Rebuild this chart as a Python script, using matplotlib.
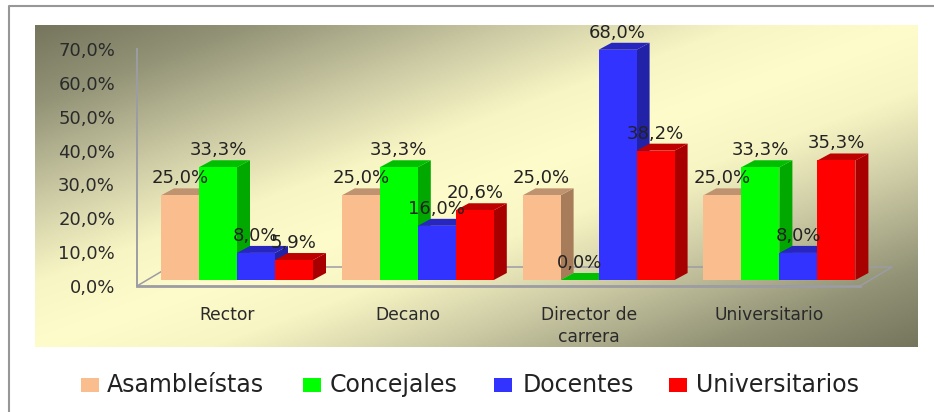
import numpy as np
import matplotlib
matplotlib.use("Agg")
import matplotlib.pyplot as plt
from matplotlib.colors import LinearSegmentedColormap
from matplotlib.lines import Line2D
from matplotlib.patches import Polygon, Rectangle

categories = ["Rector", "Decano", "Director de\ncarrera", "Universitario"]
asambleistas = [25.0, 25.0, 25.0, 25.0]
concejales = [33.3, 33.3, 0.0, 33.3]
docentes = [8.0, 16.0, 68.0, 8.0]
universitarios = [5.9, 20.6, 38.2, 35.3]
series_names = ["Asambleístas", "Concejales", "Docentes", "Universitarios"]
y_ticks = [0, 10, 20, 30, 40, 50, 60, 70]

W, H = 934, 412
PT = 72 / 100
fig = plt.figure(figsize=(W / 100, H / 100), dpi=100, facecolor="white")
plt.rcParams["font.family"] = "DejaVu Sans"


def fx(p):
    return p / W


def fy(p):
    return 1 - p / H


# outer frame
fig.add_artist(Line2D([fx(9), fx(9), fx(934)], [fy(412), fy(6), fy(6)], color="#979797", lw=1.5))

# gradient panel
bg = fig.add_axes([fx(35), fy(347), fx(918 - 35), (347 - 25) / H], zorder=0)
u, v = np.meshgrid(np.linspace(0, 1, 440), np.linspace(0, 1, 160))
cmap = LinearSegmentedColormap.from_list(
    "panel",
    [(0, "#76765E"), (0.12, "#939377"), (0.27, "#CCCAA4"), (0.40, "#F8F5C4"), (0.5, "#FFFCCC"),
     (0.60, "#F8F5C4"), (0.73, "#CCCAA4"), (0.88, "#939377"), (1, "#76765E")],
)
bg.imshow((u + v) / 2, cmap=cmap, vmin=0, vmax=1, aspect="auto", interpolation="bilinear")
bg.axis("off")

# main axes: x px = 237 + 180.8 * category, y px = 286 - 3.386 * value
ax = fig.add_axes([fx(137), fy(286), fx(860 - 137), (286 - 49) / H], zorder=1)
ax.patch.set_visible(False)
ax.set_xlim((137 - 237) / 180.8, (860 - 237) / 180.8)
ax.set_ylim(0, 70)

PXX, PXY = 1 / 180.8, 1 / 3.386
bar_w = 38 * PXX
dep_x, dep_y = 13 * PXX, 7 * PXY
base = 6 * PXY
x_idx = np.arange(len(categories))

for s in ("top", "right"):
    ax.spines[s].set_visible(False)
ax.spines["left"].set_color("#9C9CA4")
ax.spines["left"].set_linewidth(1.4)
ax.spines["bottom"].set_color("#9C9CA4")
ax.spines["bottom"].set_linewidth(2.0)

# floor outline
fl_y = 19 * PXY
x0, x1 = ax.get_xlim()
fl_dx = 32 * PXX
ax.plot([x0, x0 + fl_dx, x1 + fl_dx, x1], [0, fl_y, fl_y, 0], color="#9C9CA4", lw=1.1,
        clip_on=False, zorder=1)

series = [asambleistas, concejales, docentes, universitarios]
front = ["#F9BD8E", "#00FF00", "#3333FF", "#FF0000"]
top = ["#BF9270", "#00BF00", "#2727BF", "#BF0000"]
side = ["#A67C5A", "#00A800", "#2222A8", "#A80000"]

z = 2
for c in x_idx:
    for k, vals in enumerate(series):
        val = vals[c]
        left = c - 2 * bar_w + k * bar_w
        right = left + bar_w
        t = base + val
        ax.add_patch(Polygon([(right, base), (right + dep_x, base + dep_y), (right + dep_x, t + dep_y), (right, t)],
                             closed=True, fc=side[k], ec="none", clip_on=False, zorder=z))
        ax.add_patch(Polygon([(left, t), (right, t), (right + dep_x, t + dep_y), (left + dep_x, t + dep_y)],
                             closed=True, fc=top[k], ec="none", clip_on=False, zorder=z))
        ax.bar(left, val, width=bar_w, bottom=base, align="edge", color=front[k], clip_on=False, zorder=z + 0.5)
        z += 1

for c in x_idx:
    for k, vals in enumerate(series):
        val = vals[c]
        left = c - 2 * bar_w + k * bar_w
        ax.annotate(f"{val:.1f}%".replace(".", ","), (left + bar_w / 2, base + val),
                    xytext=(0, 17 * PT), textcoords="offset points", ha="center", va="center",
                    fontsize=13, color="#222222", zorder=100, annotation_clip=False)

ax.set_yticks(y_ticks)
ax.set_yticklabels([f"{t:.1f}%".replace(".", ",") for t in y_ticks], fontsize=13, color="#2A2A2A")
ax.set_xticks(x_idx - 10 * PXX)
ax.set_xticklabels(categories, fontsize=12.3, color="#2A2A2A", linespacing=1.25)
ax.tick_params(axis="y", length=0, pad=22 * PT)
ax.tick_params(axis="x", length=0, pad=20 * PT)

# legend
swatch_x = [81, 303, 494, 669]
text_x = [107, 330, 523, 696]
for name, col, sx, tx in zip(series_names, front, swatch_x, text_x):
    fig.add_artist(Rectangle((fx(sx), fy(392)), 18 / W, 14 / H, transform=fig.transFigure, fc=col, ec="none"))
    fig.text(fx(tx), fy(385), name, fontsize=17, color="#222222", ha="left", va="center")

fig.savefig("out.png", dpi=100)
